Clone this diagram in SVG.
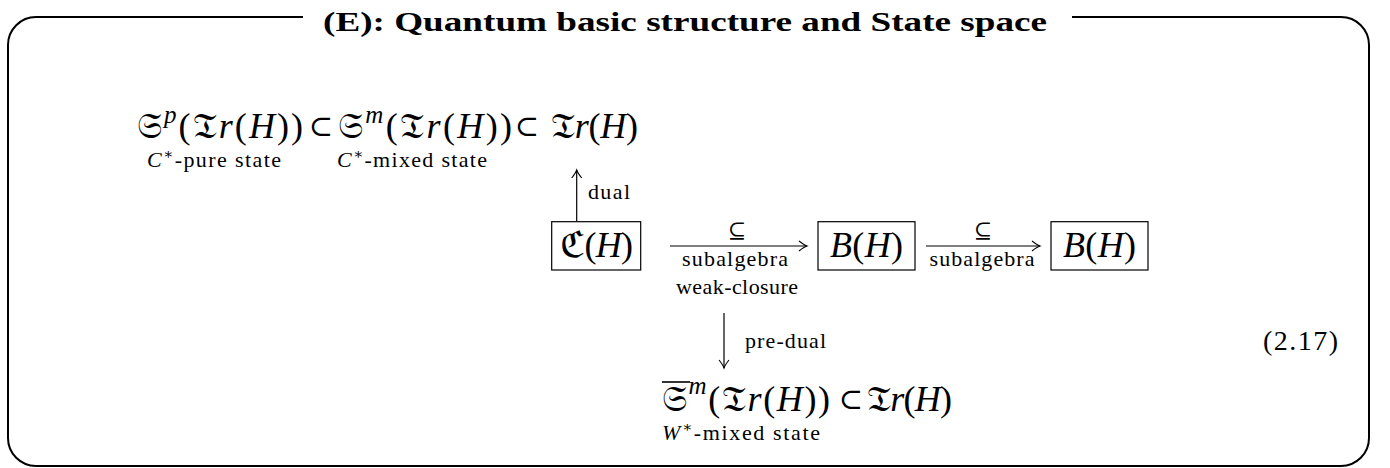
<svg xmlns="http://www.w3.org/2000/svg" width="1390" height="468" viewBox="0 0 1390 468">
<style>
text{font-family:"Liberation Serif","DejaVu Serif",serif;fill:#000}
.m{font-size:36px}
.sub{font-size:29px}
.t{font-size:22px}
.it{font-style:italic}
.fr{font-family:"DejaVu Serif","DejaVu Sans","Noto Sans",serif;font-style:normal}
.title{font-size:27px;font-weight:bold}
.box{fill:none;stroke:#000;stroke-width:1.2}
.arr{fill:none;stroke:#000;stroke-width:1.2;marker-end:url(#ah)}
.frame{fill:none;stroke:#000;stroke-width:2}
</style>
<defs>
<marker id="ah" viewBox="-10 -6 12 12" refX="0" refY="0" markerWidth="12" markerHeight="12" markerUnits="userSpaceOnUse" orient="auto">
<path d="M-8,-5 Q-3,-1 0,0 Q-3,1 -8,5" fill="none" stroke="#000" stroke-width="1.1"/>
</marker>
</defs>
<g id="frame">
<path class="frame" d="M303,17 H36 A28,28 0 0 0 8,45 V438 A28,28 0 0 0 36,466 H1341 A28,28 0 0 0 1369,438 V45 A28,28 0 0 0 1341,17 H1072"/>
<text class="title" x="323" y="31" textLength="724" lengthAdjust="spacingAndGlyphs">(E): Quantum basic structure and State space</text>
</g>
<g id="top-row">
<text class="m" x="137" y="138" textLength="166"><tspan class="fr">𝔖</tspan><tspan class="it" font-size="25" dy="-15">p</tspan><tspan dy="15">(</tspan><tspan class="fr">𝔗</tspan><tspan class="it">r</tspan>(<tspan class="it">H</tspan>))</text>
<text class="sub" x="321" y="136" text-anchor="middle">⊂</text>
<text class="m" x="338" y="138" textLength="174"><tspan class="fr">𝔖</tspan><tspan class="it" font-size="25" dy="-15">m</tspan><tspan dy="15">(</tspan><tspan class="fr">𝔗</tspan><tspan class="it">r</tspan>(<tspan class="it">H</tspan>))</text>
<text class="sub" x="527" y="136" text-anchor="middle">⊂</text>
<text class="m" x="551" y="138" textLength="87"><tspan class="fr">𝔗</tspan><tspan class="it">r</tspan>(<tspan class="it">H</tspan>)</text>
<text class="t" x="147" y="167" textLength="134"><tspan class="it">C</tspan><tspan font-size="15" dy="-8">∗</tspan><tspan dy="8">-pure state</tspan></text>
<text class="t" x="337" y="167" textLength="150"><tspan class="it">C</tspan><tspan font-size="15" dy="-8">∗</tspan><tspan dy="8">-mixed state</tspan></text>
</g>
<g id="node-CH">
<rect class="box" x="551.7" y="221.7" width="89" height="48.3"/>
<text class="m" x="560" y="257" textLength="73"><tspan class="fr">ℭ</tspan>(<tspan class="it">H</tspan>)</text>
</g>
<g id="node-BH1">
<rect class="box" x="818" y="221.7" width="97" height="48.3"/>
<text class="m" x="830" y="257" textLength="73"><tspan class="it">B</tspan>(<tspan class="it">H</tspan>)</text>
</g>
<g id="node-BH2">
<rect class="box" x="1051" y="221.7" width="97" height="48.3"/>
<text class="m" x="1063" y="257" textLength="73"><tspan class="it">B</tspan>(<tspan class="it">H</tspan>)</text>
</g>
<g id="bottom-row">
<line x1="662" y1="382" x2="690" y2="382" stroke="#000" stroke-width="1.6"/>
<text class="m" x="662" y="411" textLength="168"><tspan class="fr">𝔖</tspan><tspan class="it" font-size="25" dy="-17">m</tspan><tspan dy="17">(</tspan><tspan class="fr">𝔗</tspan><tspan class="it">r</tspan>(<tspan class="it">H</tspan>))</text>
<text class="sub" x="851" y="409" text-anchor="middle">⊂</text>
<text class="m" x="867" y="411" textLength="85"><tspan class="fr">𝔗</tspan><tspan class="it">r</tspan>(<tspan class="it">H</tspan>)</text>
<text class="t" x="662" y="440" textLength="158"><tspan class="it">W</tspan><tspan font-size="15" dy="-8">∗</tspan><tspan dy="8">-mixed state</tspan></text>
</g>
<g id="connectors">
<line class="arr" x1="576.7" y1="221" x2="576.7" y2="170"/>
<text class="t" x="588" y="199" textLength="42">dual</text>
<line class="arr" x1="670" y1="246" x2="807" y2="246"/>
<text class="t" x="737" y="238" text-anchor="middle" font-size="20">⊆</text>
<text class="t" x="735" y="266" text-anchor="middle" textLength="106">subalgebra</text>
<text class="t" x="737" y="294" text-anchor="middle" textLength="122">weak-closure</text>
<line class="arr" x1="926" y1="246" x2="1040" y2="246"/>
<text class="t" x="983" y="238" text-anchor="middle" font-size="20">⊆</text>
<text class="t" x="982" y="266" text-anchor="middle" textLength="105">subalgebra</text>
<line class="arr" x1="724" y1="313" x2="724" y2="368"/>
<text class="t" x="745" y="348" textLength="81">pre-dual</text>
</g>
<text x="1263" y="350" font-size="28" textLength="75">(2.17)</text>
</svg>
